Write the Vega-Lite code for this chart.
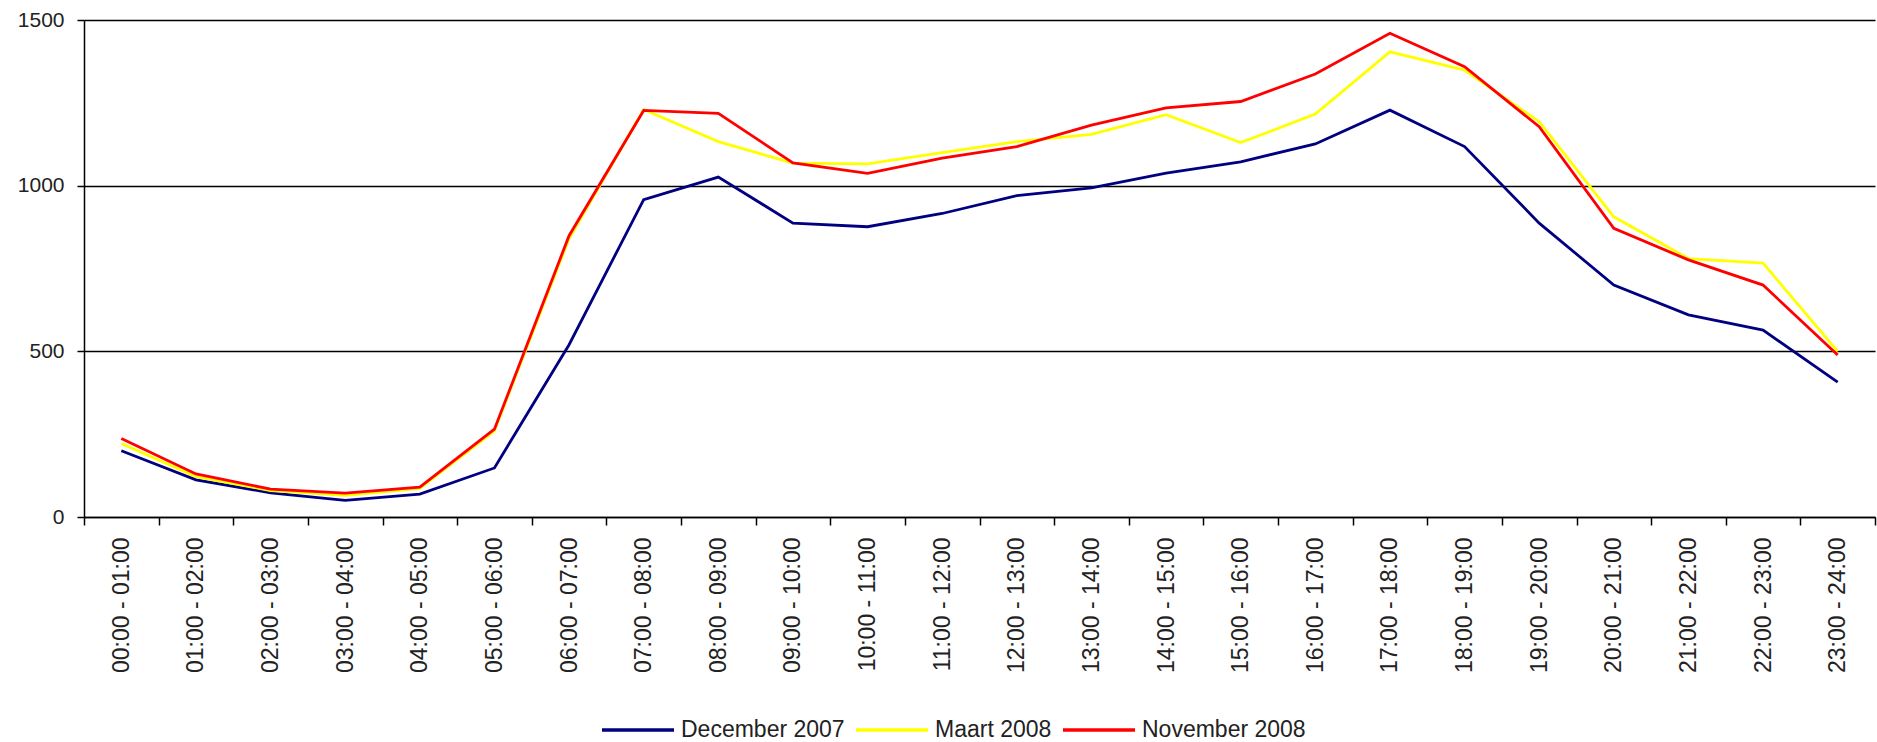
{
  "$schema": "https://vega.github.io/schema/vega-lite/v6.json",
  "width": 1791,
  "height": 497,
  "autosize": {"type": "none"},
  "padding": {"left": 84, "top": 20, "right": 2, "bottom": 225},
  "background": "white",
  "config": {
    "view": {"stroke": null},
    "font": "Liberation Sans"
  },
  "datasets": {
    "traffic": [
      {"hour": "00:00 - 01:00", "series": "December 2007", "value": 200},
      {"hour": "01:00 - 02:00", "series": "December 2007", "value": 112},
      {"hour": "02:00 - 03:00", "series": "December 2007", "value": 73},
      {"hour": "03:00 - 04:00", "series": "December 2007", "value": 50},
      {"hour": "04:00 - 05:00", "series": "December 2007", "value": 69},
      {"hour": "05:00 - 06:00", "series": "December 2007", "value": 148},
      {"hour": "06:00 - 07:00", "series": "December 2007", "value": 520},
      {"hour": "07:00 - 08:00", "series": "December 2007", "value": 958},
      {"hour": "08:00 - 09:00", "series": "December 2007", "value": 1026},
      {"hour": "09:00 - 10:00", "series": "December 2007", "value": 887},
      {"hour": "10:00 - 11:00", "series": "December 2007", "value": 876},
      {"hour": "11:00 - 12:00", "series": "December 2007", "value": 916},
      {"hour": "12:00 - 13:00", "series": "December 2007", "value": 970},
      {"hour": "13:00 - 14:00", "series": "December 2007", "value": 993},
      {"hour": "14:00 - 15:00", "series": "December 2007", "value": 1038},
      {"hour": "15:00 - 16:00", "series": "December 2007", "value": 1072},
      {"hour": "16:00 - 17:00", "series": "December 2007", "value": 1126},
      {"hour": "17:00 - 18:00", "series": "December 2007", "value": 1228},
      {"hour": "18:00 - 19:00", "series": "December 2007", "value": 1118},
      {"hour": "19:00 - 20:00", "series": "December 2007", "value": 887},
      {"hour": "20:00 - 21:00", "series": "December 2007", "value": 700},
      {"hour": "21:00 - 22:00", "series": "December 2007", "value": 610},
      {"hour": "22:00 - 23:00", "series": "December 2007", "value": 564},
      {"hour": "23:00 - 24:00", "series": "December 2007", "value": 407},
      {"hour": "00:00 - 01:00", "series": "Maart 2008", "value": 222},
      {"hour": "01:00 - 02:00", "series": "Maart 2008", "value": 122},
      {"hour": "02:00 - 03:00", "series": "Maart 2008", "value": 80},
      {"hour": "03:00 - 04:00", "series": "Maart 2008", "value": 65},
      {"hour": "04:00 - 05:00", "series": "Maart 2008", "value": 86},
      {"hour": "05:00 - 06:00", "series": "Maart 2008", "value": 260},
      {"hour": "06:00 - 07:00", "series": "Maart 2008", "value": 840},
      {"hour": "07:00 - 08:00", "series": "Maart 2008", "value": 1230},
      {"hour": "08:00 - 09:00", "series": "Maart 2008", "value": 1133},
      {"hour": "09:00 - 10:00", "series": "Maart 2008", "value": 1068},
      {"hour": "10:00 - 11:00", "series": "Maart 2008", "value": 1066},
      {"hour": "11:00 - 12:00", "series": "Maart 2008", "value": 1100},
      {"hour": "12:00 - 13:00", "series": "Maart 2008", "value": 1133},
      {"hour": "13:00 - 14:00", "series": "Maart 2008", "value": 1155},
      {"hour": "14:00 - 15:00", "series": "Maart 2008", "value": 1214},
      {"hour": "15:00 - 16:00", "series": "Maart 2008", "value": 1130},
      {"hour": "16:00 - 17:00", "series": "Maart 2008", "value": 1216},
      {"hour": "17:00 - 18:00", "series": "Maart 2008", "value": 1404},
      {"hour": "18:00 - 19:00", "series": "Maart 2008", "value": 1349},
      {"hour": "19:00 - 20:00", "series": "Maart 2008", "value": 1193},
      {"hour": "20:00 - 21:00", "series": "Maart 2008", "value": 906},
      {"hour": "21:00 - 22:00", "series": "Maart 2008", "value": 780},
      {"hour": "22:00 - 23:00", "series": "Maart 2008", "value": 766},
      {"hour": "23:00 - 24:00", "series": "Maart 2008", "value": 500},
      {"hour": "00:00 - 01:00", "series": "November 2008", "value": 237},
      {"hour": "01:00 - 02:00", "series": "November 2008", "value": 130},
      {"hour": "02:00 - 03:00", "series": "November 2008", "value": 84},
      {"hour": "03:00 - 04:00", "series": "November 2008", "value": 72},
      {"hour": "04:00 - 05:00", "series": "November 2008", "value": 90},
      {"hour": "05:00 - 06:00", "series": "November 2008", "value": 265},
      {"hour": "06:00 - 07:00", "series": "November 2008", "value": 849},
      {"hour": "07:00 - 08:00", "series": "November 2008", "value": 1227},
      {"hour": "08:00 - 09:00", "series": "November 2008", "value": 1218},
      {"hour": "09:00 - 10:00", "series": "November 2008", "value": 1069},
      {"hour": "10:00 - 11:00", "series": "November 2008", "value": 1037},
      {"hour": "11:00 - 12:00", "series": "November 2008", "value": 1083},
      {"hour": "12:00 - 13:00", "series": "November 2008", "value": 1118},
      {"hour": "13:00 - 14:00", "series": "November 2008", "value": 1183},
      {"hour": "14:00 - 15:00", "series": "November 2008", "value": 1235},
      {"hour": "15:00 - 16:00", "series": "November 2008", "value": 1254},
      {"hour": "16:00 - 17:00", "series": "November 2008", "value": 1337},
      {"hour": "17:00 - 18:00", "series": "November 2008", "value": 1460},
      {"hour": "18:00 - 19:00", "series": "November 2008", "value": 1359},
      {"hour": "19:00 - 20:00", "series": "November 2008", "value": 1178},
      {"hour": "20:00 - 21:00", "series": "November 2008", "value": 871},
      {"hour": "21:00 - 22:00", "series": "November 2008", "value": 776},
      {"hour": "22:00 - 23:00", "series": "November 2008", "value": 700},
      {"hour": "23:00 - 24:00", "series": "November 2008", "value": 489}
    ]
  },
  "data": {"name": "traffic"},
  "mark": {"type": "line", "strokeWidth": 2.8, "interpolate": "linear"},
  "encoding": {
    "x": {
      "field": "hour",
      "type": "nominal",
      "sort": null,
      "scale": {"type": "band", "paddingInner": 0, "paddingOuter": 0},
      "axis": {
        "title": null,
        "labelAngle": -90,
        "labelFontSize": 23,
        "labelColor": "#222",
        "labelPadding": 12,
        "tickBand": "extent",
        "tickSize": 8,
        "tickColor": "#000",
        "tickWidth": 1.5,
        "domainColor": "#000",
        "domainWidth": 1.5,
        "grid": false
      }
    },
    "y": {
      "field": "value",
      "type": "quantitative",
      "scale": {"domain": [0, 1500], "nice": false},
      "axis": {
        "title": null,
        "values": [0, 500, 1000, 1500],
        "format": "d",
        "labelFontSize": 21,
        "labelColor": "#222",
        "labelPadding": 13,
        "tickSize": 7,
        "tickColor": "#000",
        "tickWidth": 1.5,
        "domainColor": "#000",
        "domainWidth": 1.5,
        "grid": true,
        "gridColor": "#000",
        "gridWidth": 1.5,
        "gridOpacity": 1
      }
    },
    "color": {
      "field": "series",
      "type": "nominal",
      "scale": {
        "domain": ["December 2007", "Maart 2008", "November 2008"],
        "range": ["#000080", "#FFFF00", "#FF0000"]
      },
      "legend": {
        "title": null,
        "orient": "none",
        "direction": "horizontal",
        "legendX": 516,
        "legendY": 672,
        "symbolType": "stroke",
        "symbolSize": 5184,
        "symbolStrokeWidth": 3.5,
        "labelFontSize": 23,
        "labelLimit": 400,
        "labelColor": "#222",
        "labelOffset": 5,
        "columnPadding": 4,
        "padding": 0
      }
    },
    "order": {"field": "series"}
  }
}
